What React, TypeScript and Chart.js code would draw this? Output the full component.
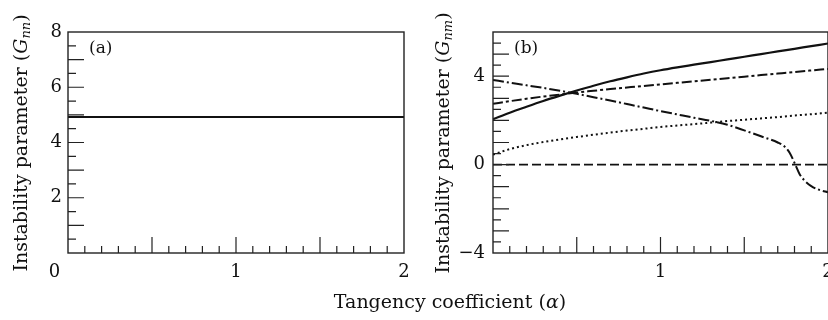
import React, { useEffect, useRef } from "react";
import { Chart, registerables } from "chart.js";

Chart.register(...registerables);

// ---------- data ----------
const alphaA = [0, 2];
const gNN = [4.92, 4.92];

const alphaGrid = [0, 0.1, 0.2, 0.3, 0.4, 0.5, 0.6, 0.7, 0.8, 0.9, 1.0, 1.1, 1.2, 1.3, 1.4, 1.5, 1.6, 1.7, 1.8, 1.9, 2.0];
const gSolid = [2.05, 2.35, 2.62, 2.88, 3.12, 3.35, 3.57, 3.77, 3.95, 4.12, 4.27, 4.4, 4.52, 4.64, 4.76, 4.88, 5.0, 5.12, 5.24, 5.36, 5.48];
const gDashDotUp = [2.75, 2.87, 2.98, 3.08, 3.17, 3.26, 3.34, 3.42, 3.49, 3.56, 3.63, 3.7, 3.77, 3.84, 3.91, 3.98, 4.05, 4.12, 4.19, 4.26, 4.33];
const gDotted = [0.45, 0.7, 0.88, 1.02, 1.14, 1.25, 1.35, 1.45, 1.54, 1.62, 1.7, 1.77, 1.83, 1.9, 1.97, 2.03, 2.09, 2.15, 2.22, 2.28, 2.35];
const alphaEnds = [0, 2];
const gDashed = [0, 0];
const alphaDown = [0, 0.1, 0.2, 0.3, 0.4, 0.5, 0.6, 0.7, 0.8, 0.9, 1.0, 1.1, 1.2, 1.3, 1.4, 1.5, 1.6, 1.7, 1.74, 1.77, 1.8, 1.83, 1.86, 1.9, 1.95, 2.0];
const gDashDotDown = [3.83, 3.71, 3.59, 3.47, 3.34, 3.2, 3.05, 2.9, 2.74, 2.58, 2.42, 2.27, 2.12, 1.98, 1.8, 1.55, 1.28, 1.0, 0.82, 0.55, 0.08, -0.42, -0.72, -0.97, -1.15, -1.25];

const xLabelsA = [0, 1, 2];
const xLabelsB = [1, 2];
const yLabelsA = [2, 4, 6, 8];
const yLabelsB = [-4, 0, 4];

// ---------- style ----------
const FONT = '"DejaVu Serif", serif';
const INK = "#111";
const TITLE_SIZE = 19;
const TICK_SIZE = 18;

const pts = (xs: number[], ys: number[]) => xs.map((x, i) => ({ x, y: ys[i] }));

function drawYTitle(ctx: CanvasRenderingContext2D, cx: number, cy: number, sub: string) {
  const parts = [
    { t: "Instability parameter (", f: `${TITLE_SIZE}px ${FONT}`, dy: 0 },
    { t: "G", f: `italic ${TITLE_SIZE}px ${FONT}`, dy: 0 },
    { t: sub, f: `italic 13px ${FONT}`, dy: 5 },
    { t: ")", f: `${TITLE_SIZE}px ${FONT}`, dy: 0 },
  ];
  let total = 0;
  const widths = parts.map((p) => {
    ctx.font = p.f;
    const w = ctx.measureText(p.t).width;
    total += w;
    return w;
  });
  ctx.save();
  ctx.translate(cx, cy);
  ctx.rotate(-Math.PI / 2);
  ctx.fillStyle = INK;
  ctx.textBaseline = "middle";
  ctx.textAlign = "left";
  let x = -total / 2;
  parts.forEach((p, i) => {
    ctx.font = p.f;
    ctx.fillText(p.t, x, p.dy);
    x += widths[i];
  });
  ctx.restore();
}

function makePanelPlugin(cfg: {
  id: string;
  label: string;
  sub: string;
  titleX: number;
  yMin: number;
  yMax: number;
}) {
  return {
    id: cfg.id,
    afterDatasetsDraw(chart: any) {
      const { ctx, chartArea: a, scales } = chart;
      const xs = scales.x;
      const ys = scales.y;
      ctx.save();
      ctx.strokeStyle = "#222";
      ctx.lineWidth = 1.4;
      ctx.strokeRect(a.left, a.top, a.right - a.left, a.bottom - a.top);
      ctx.lineWidth = 1.2;
      ctx.beginPath();
      for (let i = 1; i < 20; i++) {
        const px = xs.getPixelForValue(i / 10);
        const len = i % 5 === 0 ? 16 : 7;
        ctx.moveTo(px, a.bottom);
        ctx.lineTo(px, a.bottom - len);
      }
      const n = Math.round((cfg.yMax - cfg.yMin) * 2);
      for (let j = 1; j < n; j++) {
        const v = cfg.yMin + j / 2;
        const py = ys.getPixelForValue(v);
        const len = j % 2 === 0 ? 16 : 8;
        ctx.moveTo(a.left, py);
        ctx.lineTo(a.left + len, py);
      }
      ctx.stroke();
      ctx.fillStyle = INK;
      ctx.font = `17px ${FONT}`;
      ctx.textAlign = "left";
      ctx.textBaseline = "middle";
      ctx.fillText(cfg.label, a.left + 21, a.top + 17);
      ctx.restore();
      drawYTitle(ctx, cfg.titleX, 143, cfg.sub);
    },
  };
}

function makeConfig(
  datasets: any[],
  xLabels: number[],
  yLabels: number[],
  yMin: number,
  yMax: number,
  yWidth: number,
  yPad: number,
  padRight: number,
  plugin: any,
  zeroLabel: string
) {
  return {
    type: "line",
    data: { datasets },
    options: {
      responsive: false,
      animation: false,
      layout: { padding: { top: 32, right: padRight, left: 0, bottom: 0 } },
      plugins: { legend: { display: false }, tooltip: { enabled: false } },
      elements: { point: { radius: 0 } },
      scales: {
        x: {
          type: "linear",
          min: 0,
          max: 2,
          grid: { display: false, drawTicks: false },
          border: { display: false },
          afterBuildTicks: (s: any) => {
            s.ticks = xLabels.map((v) => ({ value: v }));
          },
          afterFit: (s: any) => {
            s.height = 67;
            s.paddingLeft = 0;
            s.paddingRight = 0;
          },
          ticks: {
            autoSkip: false,
            maxRotation: 0,
            padding: 9,
            color: INK,
            font: { family: FONT, size: TICK_SIZE },
            callback: (v: number) => (v === 0 ? zeroLabel : String(v)),
          },
        },
        y: {
          type: "linear",
          min: yMin,
          max: yMax,
          grid: { display: false, drawTicks: false },
          border: { display: false },
          afterBuildTicks: (s: any) => {
            s.ticks = yLabels.map((v) => ({ value: v }));
          },
          afterFit: (s: any) => {
            s.width = yWidth;
            s.paddingTop = 0;
            s.paddingBottom = 0;
          },
          ticks: {
            padding: yPad,
            color: INK,
            font: { family: FONT, size: TICK_SIZE },
            callback: (v: number) => (v < 0 ? "\u2212" + Math.abs(v) : String(v)),
          },
        },
      },
    },
    plugins: [plugin],
  } as any;
}

const lineDs = (data: any[], dash: number[], width = 1.8) => ({
  data,
  borderColor: INK,
  borderWidth: width,
  borderDash: dash,
  pointRadius: 0,
  fill: false,
  cubicInterpolationMode: "monotone",
});

export default function App() {
  const refA = useRef<HTMLCanvasElement>(null);
  const refB = useRef<HTMLCanvasElement>(null);

  useEffect(() => {
    const chartA = new Chart(
      refA.current as HTMLCanvasElement,
      makeConfig(
        [lineDs(pts(alphaA, gNN), [], 2)],
        xLabelsA,
        yLabelsA,
        0,
        8,
        68,
        6,
        10,
        makePanelPlugin({ id: "panelA", label: "(a)", sub: "nn", titleX: 22, yMin: 0, yMax: 8 }),
        "0\u2002\u2002\u2002"
      )
    );
    const chartB = new Chart(
      refB.current as HTMLCanvasElement,
      makeConfig(
        [
          lineDs(pts(alphaGrid, gSolid), [], 2.2),
          lineDs(pts(alphaGrid, gDashDotUp), [10, 3, 3, 3], 2),
          lineDs(pts(alphaGrid, gDotted), [2, 3], 2),
          lineDs(pts(alphaEnds, gDashed), [9, 4], 1.8),
          lineDs(pts(alphaDown, gDashDotDown), [11, 3, 2, 3], 2),
        ],
        xLabelsB,
        yLabelsB,
        -4,
        6,
        79,
        8,
        0,
        makePanelPlugin({ id: "panelB", label: "(b)", sub: "nm", titleX: 30, yMin: -4, yMax: 6 }),
        ""
      )
    );
    return () => {
      chartA.destroy();
      chartB.destroy();
    };
  }, []);

  return (
    <div style={{ position: "absolute", left: 0, top: 0, width: 828, height: 320, background: "#fff" }}>
      <canvas ref={refA} width={414} height={320} style={{ position: "absolute", left: 0, top: 0, width: 414, height: 320 }} />
      <canvas ref={refB} width={414} height={320} style={{ position: "absolute", left: 414, top: 0, width: 414, height: 320 }} />
      <div
        style={{
          position: "absolute",
          left: 450,
          top: 291,
          transform: "translateX(-50%)",
          whiteSpace: "nowrap",
          fontFamily: FONT,
          fontSize: TITLE_SIZE,
          lineHeight: "20px",
          color: INK,
        }}
      >
        Tangency coefficient (<i>α</i>)
      </div>
    </div>
  );
}
